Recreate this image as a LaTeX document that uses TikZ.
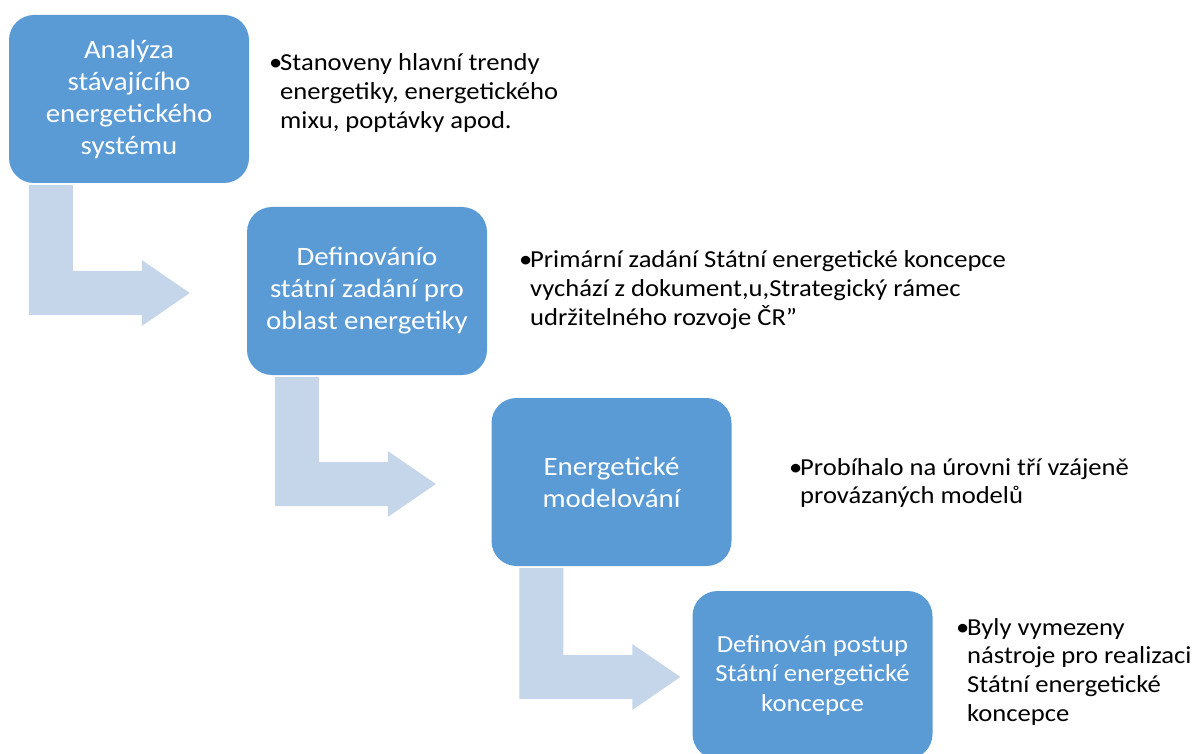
\documentclass[tikz,border=0pt]{standalone}
\usepackage{fontspec}
\setmainfont{Carlito}[FakeStretch=1.09]
\usepackage{xcolor}
\usepackage{tikz}
\usetikzlibrary{positioning,calc}
\definecolor{boxBlue}{HTML}{5B9BD5}
\definecolor{arrowBlue}{HTML}{C5D5EA}
\tikzset{
  stepBox/.style={
    rectangle,
    rounded corners=25pt,
    fill=boxBlue,
    text=white,
    minimum width=240pt,
    minimum height=168pt,
    inner sep=0pt,
    align=center,
    font=\fontsize{26.5}{32}\selectfont
  },
  lastBox/.style={
    stepBox,
    font=\fontsize{24.5}{29.5}\selectfont
  },
  noteText/.style={
    anchor=base west,
    inner sep=0pt,
    font=\fontsize{24.4}{28.8}\selectfont
  },
  flowArrow/.style={
    fill=arrowBlue
  }
}
\newcommand{\noteList}[1]{\begin{tabular}[t]{@{}p{11pt}@{}l@{}}#1\end{tabular}}

\begin{document}
\begin{tikzpicture}[x=1pt,y=-1pt]
  \useasboundingbox (0,0) rectangle (1192,754);
  \clip (0,0) rectangle (1192,754);

  \node[stepBox] (analyza) at (129,99) {Analýza\\stávajícího\\energetického\\systému};
  \node[stepBox] (zadani) at (367,291) {Definovánío\\státní zadání pro\\oblast energetiky};
  \node[stepBox] (modelovani) at (611.5,482) {Energetické\\modelování};
  \node[lastBox] (postup) at (812.5,675) {Definován postup\\Státní energetické\\koncepce};

  % bent arrows between the steps
  \foreach \src/\tgt/\dx in {analyza/zadani/20, zadani/modelovani/28, modelovani/postup/28}{
    \fill[flowArrow] ($(\src.south west)+(\dx,2)$) coordinate (s)
      -- ($(s |- \tgt.center)+(0,24)$)
      -- ++(113,0) -- ++(0,11)
      -- ($(s |- \tgt.center)+(161,2)$)
      -- ++(-48,-33) -- ++(0,11)
      -- ($(s |- \tgt.center)+(44,-20)$)
      -- ($(s)+(44,0)$) -- cycle;
  }

  \node[noteText] (trendy) at (269,71) {\noteList{\textbullet & Stanoveny hlavní trendy\\
    & energetiky, energetického\\ & mixu, poptávky apod.}};
  \node[noteText] (primarni) at (519,268) {\noteList{\textbullet & Primární zadání Státní energetické koncepce\\
    & vychází z dokument,u,Strategický rámec\\ & udržitelného rozvoje ČR”}};
  \node[noteText] (modely) at (789,475) {\noteList{\textbullet & Probíhalo na úrovni tří vzájeně\\
    & provázaných modelů}};
  \node[noteText] (nastroje) at (956,635) {\noteList{\textbullet & Byly vymezeny\\
    & nástroje pro realizaci\\ & Státní energetické\\ & koncepce}};
\end{tikzpicture}
\end{document}
